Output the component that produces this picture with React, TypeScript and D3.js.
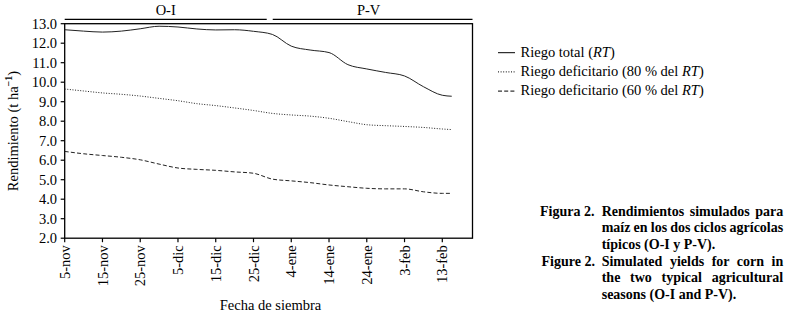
import React, { useLayoutEffect, useRef, useState } from "react";
import * as d3 from "d3";

// ---- data ----
const days = [0, 5, 10, 15, 20, 25, 30, 35, 40, 45, 50, 55, 60, 65, 70, 75, 80, 85, 90, 95, 100, 102.5];
const riegoTotal = [12.69, 12.62, 12.57, 12.62, 12.74, 12.87, 12.83, 12.73, 12.68, 12.69, 12.61, 12.45, 11.85, 11.65, 11.52, 10.9, 10.68, 10.5, 10.32, 9.77, 9.33, 9.28];
const riego80 = [9.65, 9.55, 9.45, 9.38, 9.29, 9.17, 9.05, 8.9, 8.8, 8.68, 8.55, 8.4, 8.32, 8.26, 8.15, 7.98, 7.82, 7.77, 7.73, 7.68, 7.6, 7.57];
const riego60 = [6.45, 6.33, 6.24, 6.15, 6.02, 5.8, 5.6, 5.53, 5.48, 5.4, 5.33, 5.03, 4.94, 4.85, 4.73, 4.64, 4.56, 4.53, 4.53, 4.38, 4.3, 4.3];

const yTicks = [2, 3, 4, 5, 6, 7, 8, 9, 10, 11, 12, 13];
const xTickDays = [0, 10, 20, 30, 40, 50, 60, 70, 80, 90, 100];
const xTickLabels = ["5-nov", "15-nov", "25-nov", "5-dic", "15-dic", "25-dic", "4-ene", "14-ene", "24-ene", "3-feb", "13-feb"];

const seasonLabels = ["O-I", "P-V"];
const seasonStart = [0, 54.3];
const seasonEnd = [54.3, 108];

const legendLabels = ["Riego total (", "Riego deficitario (80 % del ", "Riego deficitario (60 % del "];
const dashes = ["none", "1 1.6", "4 2.2"];

const captionEs = ["Rendimientos simulados para", "maíz en los dos ciclos agrícolas", "típicos (O-I y P-V)."];
const captionEn = ["Simulated yields for corn in", "the two typical agricultural", "seasons (O-I and P-V)."];

const FONT = "'Liberation Serif', 'Times New Roman', serif";

function JText({ x, y, width, text, justify, style }: any) {
  const ref = useRef<SVGTextElement>(null);
  const [ws, setWs] = useState(0);
  useLayoutEffect(() => {
    if (!justify || !ref.current) return;
    const w = ref.current.getComputedTextLength();
    const n = text.split(" ").length - 1;
    if (n > 0) setWs((width - w) / n);
  }, [text, width, justify]);
  return (
    <text ref={ref} x={x} y={y} style={{ ...style, wordSpacing: ws + "px" }}>
      {text}
    </text>
  );
}

export default function App() {
  const x = d3.scaleLinear().domain([0, 108]).range([64.7, 472.5]);
  const y = d3.scaleLinear().domain([2, 13]).range([238.2, 23.7]);
  const series = [riegoTotal, riego80, riego60];
  const line = (vals: number[]) =>
    d3
      .line<number>()
      .x((_, i) => x(days[i]))
      .y((v) => y(v))
      .curve(d3.curveMonotoneX)(vals) as string;

  const fs = 14.5;
  return (
    <svg
      width={795}
      height={318}
      style={{ position: "absolute", left: 0, top: 0, background: "#fff" }}
      fontFamily={FONT}
    >
      {/* season bars */}
      {seasonLabels.map((s, i) => {
        const x0 = x(seasonStart[i]) + (i === 0 ? 0 : 3);
        const x1 = x(seasonEnd[i]) - (i === 0 ? 3 : 0);
        return (
          <g key={s}>
            <line x1={x0} x2={x1} y1={19.3} y2={19.3} stroke="#000" strokeWidth={1.3} />
            <text x={(x0 + x1) / 2 - (i === 1 ? 4 : 0)} y={15} textAnchor="middle" fontSize={fs}>
              {s}
            </text>
          </g>
        );
      })}
      {/* frame */}
      <rect
        x={x(0)}
        y={y(13)}
        width={x(108) - x(0)}
        height={y(2) - y(13)}
        fill="none"
        stroke="#000"
        strokeWidth={1.3}
      />
      {/* y axis */}
      {yTicks.map((t) => (
        <g key={t}>
          <line x1={x(0) - 4} x2={x(0)} y1={y(t)} y2={y(t)} stroke="#000" strokeWidth={1.2} />
          <text x={57} y={y(t)} dy="0.35em" textAnchor="end" fontSize={fs}>
            {d3.format(".1f")(t)}
          </text>
        </g>
      ))}
      {/* x axis */}
      {xTickDays.map((d, i) => (
        <g key={d}>
          <line x1={x(d)} x2={x(d)} y1={y(2)} y2={y(2) + 4} stroke="#000" strokeWidth={1.2} />
          <text
            transform={`translate(${x(d)},${y(2) + 7}) rotate(-90)`}
            dy="0.35em"
            textAnchor="end"
            fontSize={fs}
          >
            {xTickLabels[i]}
          </text>
        </g>
      ))}
      {/* axis titles */}
      <text transform={`translate(18,131) rotate(-90)`} textAnchor="middle" fontSize={fs}>
        Rendimiento (t ha
        <tspan fontSize={10} dy={-6} fontWeight="bold">
          −1
        </tspan>
        <tspan dy={6}>)</tspan>
      </text>
      <text x={270.5} y={310} textAnchor="middle" fontSize={fs}>
        Fecha de siembra
      </text>
      {/* series */}
      {series.map((s, i) => (
        <path key={i} d={line(s)} fill="none" stroke="#222" strokeWidth={1} strokeDasharray={dashes[i]} />
      ))}
      {/* legend */}
      {legendLabels.map((l, i) => {
        const ly = 52.7 + i * 19.2;
        return (
          <g key={i}>
            <line x1={498} x2={515} y1={ly} y2={ly} stroke="#000" strokeWidth={1} strokeDasharray={dashes[i]} />
            <text x={520.5} y={ly + 4.3} fontSize={fs}>
              {l}
              <tspan fontStyle="italic">RT</tspan>)
            </text>
          </g>
        );
      })}
      {/* caption */}
      <g fontWeight="bold" fontSize={14}>
        <text x={540} y={215.5}>Figura 2.</text>
        {captionEs.map((t, i) => (
          <JText key={t} x={601.7} y={215.5 + i * 16.7} width={181.5} text={t} justify={i < 2} />
        ))}
        <text x={541.5} y={265.6}>Figure 2.</text>
        {captionEn.map((t, i) => (
          <JText key={t} x={601.7} y={265.6 + i * 16.7} width={181.5} text={t} justify={i < 2} />
        ))}
      </g>
    </svg>
  );
}
